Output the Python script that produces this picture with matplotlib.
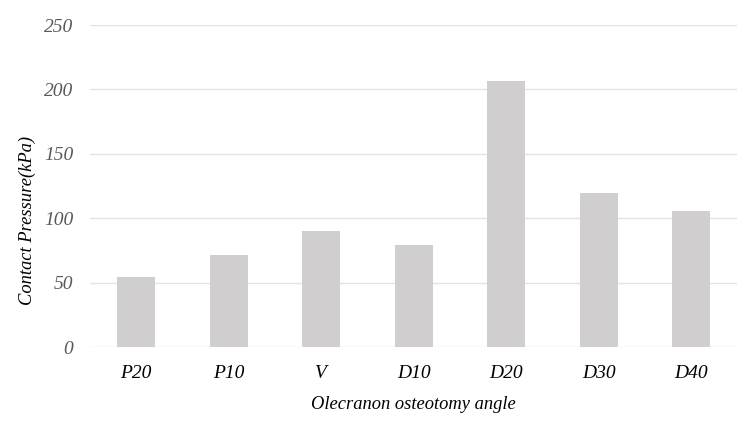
import matplotlib
matplotlib.use('Agg')
import matplotlib.pyplot as plt

# === Data ===
angles = ['P20', 'P10', 'V', 'D10', 'D20', 'D30', 'D40']
pressure = [54.6, 71.5, 90.0, 79.0, 206.5, 119.3, 105.6]

plt.rcParams['font.family'] = ['Liberation Serif', 'DejaVu Serif']

fig = plt.figure(figsize=(7.5, 4.25), dpi=100)
ax = fig.add_axes([0.12, 0.1835, 0.863, 0.7575])

ax.bar(angles, pressure, width=0.41, color='#d0cece', zorder=2)

ax.set_ylim(0, 250)
ax.set_xlim(-0.5, len(angles) - 0.5)
ax.set_yticks(range(0, 251, 50))
ax.grid(axis='y', color='#e3e3e3', linewidth=1.0, zorder=0)
for s in ax.spines.values():
    s.set_visible(False)
ax.tick_params(axis='both', length=0)
ax.tick_params(axis='y', pad=12, labelcolor='#595959', labelsize=14)
ax.tick_params(axis='x', pad=13, labelcolor='black', labelsize=14)
for lab in ax.get_xticklabels() + ax.get_yticklabels():
    lab.set_fontstyle('italic')

# Labels
ax.set_ylabel('Contact Pressure(kPa)', fontsize=13.3, style='italic', va='center')
ax.yaxis.set_label_coords(-0.097, 0.394)
ax.set_xlabel('Olecranon osteotomy angle', fontsize=13.3, style='italic', labelpad=10)

fig.savefig('out.png', dpi=100)
